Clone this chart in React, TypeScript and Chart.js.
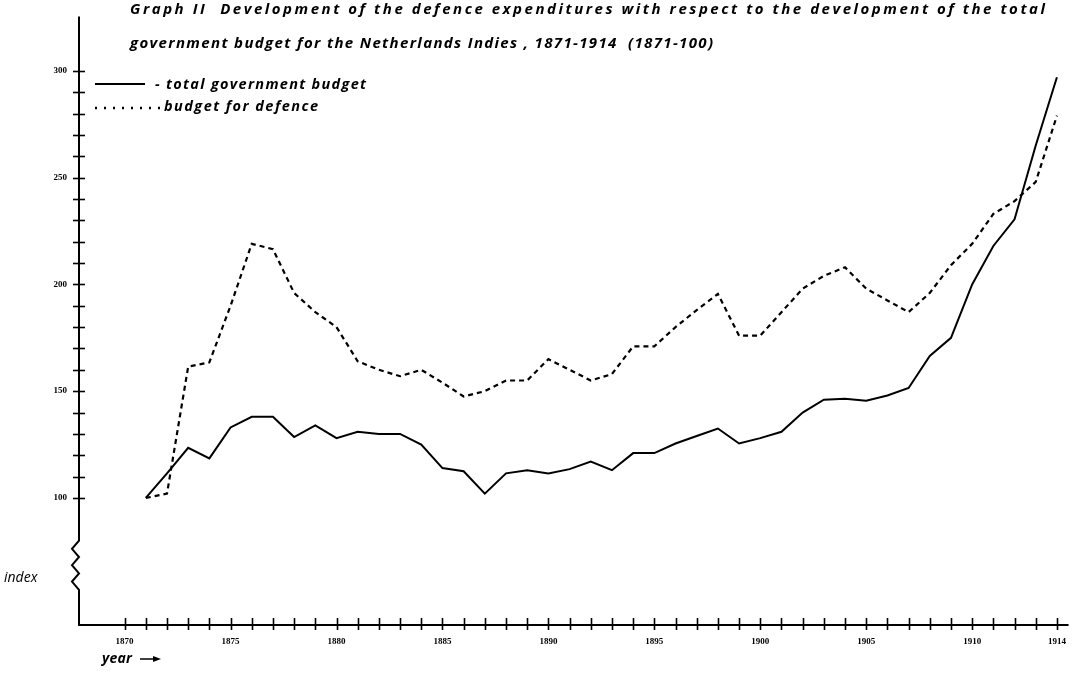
import React, { useEffect, useRef } from 'react';
import { Chart, registerables } from 'chart.js';

Chart.register(...registerables);

// ---- data (index, 1871 = 100) ----
const years = [
  1871, 1872, 1873, 1874, 1875, 1876, 1877, 1878, 1879, 1880,
  1881, 1882, 1883, 1884, 1885, 1886, 1887, 1888, 1889, 1890,
  1891, 1892, 1893, 1894, 1895, 1896, 1897, 1898, 1899, 1900,
  1901, 1902, 1903, 1904, 1905, 1906, 1907, 1908, 1909, 1910,
  1911, 1912, 1913, 1914,
];

const totalBudget = [
  100, 111.5, 123.5, 118.5, 133, 138, 138, 128.5, 134, 128,
  131, 130, 130, 125, 114, 112.5, 102, 111.5, 113, 111.5,
  113.5, 117, 113, 121, 121, 125.5, 129, 132.5, 125.5, 128,
  131, 140, 146, 146.5, 145.5, 148, 151.5, 166.5, 175, 200,
  218, 230.5, 265, 297,
];

const defenceBudget = [
  100, 102, 161.5, 163.5, 190, 219, 216.5, 196, 187, 180,
  164, 160, 157, 160, 154, 147.5, 150, 155, 155, 165,
  160, 155, 158, 171, 171, 180, 188, 195.5, 176, 176,
  187, 198, 204, 208, 198, 192.5, 187, 196, 209, 219,
  233, 239, 248, 279,
];

const xLabelYears = [1870, 1875, 1880, 1885, 1890, 1895, 1900, 1905, 1910, 1914];
const yLabelValues = [100, 150, 200, 250, 300];

const seriesNames = ['- total government budget', 'budget for defence'];
const titleLines = [
  'Graph II  Development of the defence expenditures with respect to the development of the total',
  'government budget for the Netherlands Indies , 1871-1914  (1871-100)',
];

const TEXT_FONT = '"Open Sans", "DejaVu Sans", sans-serif';

function drawSpaced(ctx: CanvasRenderingContext2D, text: string, x: number, y: number, target: number) {
  (ctx as any).letterSpacing = '0px';
  const w = ctx.measureText(text).width;
  const ls = target > 0 ? (target - w) / Math.max(1, text.length - 1) : 0;
  (ctx as any).letterSpacing = `${ls}px`;
  ctx.fillText(text, x, y);
  (ctx as any).letterSpacing = '0px';
}

const scanPlugin = {
  id: 'scanPlugin',
  afterDraw(chart: any) {
    const { ctx, chartArea, scales } = chart;
    const xs = scales.x;
    const ys = scales.y;
    const ax = chartArea.left + 1;
    const bottom = chartArea.bottom;
    ctx.save();
    ctx.strokeStyle = '#000';
    ctx.fillStyle = '#000';
    ctx.lineWidth = 2;
    ctx.lineCap = 'butt';

    // y axis with break zigzag
    const zzTop = ys.getPixelForValue(80);
    const zzBot = ys.getPixelForValue(57);
    ctx.beginPath();
    ctx.moveTo(ax, chartArea.top);
    ctx.lineTo(ax, zzTop);
    const n = 6;
    for (let i = 1; i <= n; i++) {
      const yy = zzTop + ((zzBot - zzTop) * i) / n;
      ctx.lineTo(i % 2 === 1 ? ax - 7 : ax, yy);
    }
    ctx.lineTo(ax, bottom);
    ctx.lineTo(chartArea.right, bottom);
    ctx.stroke();

    // y ticks (crossing)
    ctx.lineWidth = 1.6;
    ys.ticks.forEach((t: any) => {
      const py = Math.round(ys.getPixelForValue(t.value)) + 0.5;
      ctx.beginPath();
      ctx.moveTo(ax - 6, py);
      ctx.lineTo(ax + 6, py);
      ctx.stroke();
    });
    // x ticks (crossing)
    xs.ticks.forEach((t: any) => {
      const px = Math.round(xs.getPixelForValue(t.value)) + 0.5;
      ctx.beginPath();
      ctx.moveTo(px, bottom - 7);
      ctx.lineTo(px, bottom + 5);
      ctx.stroke();
    });

    // title
    ctx.font = `italic 700 15px ${TEXT_FONT}`;
    ctx.textBaseline = 'middle';
    ctx.textAlign = 'left';
    drawSpaced(ctx, titleLines[0], 130, 10, 915);
    drawSpaced(ctx, titleLines[1], 130, 44, 583);

    // legend
    const ds = chart.data.datasets;
    ctx.lineWidth = 2;
    ctx.setLineDash([]);
    ctx.beginPath();
    ctx.moveTo(95, 84);
    ctx.lineTo(145, 84);
    ctx.stroke();
    ctx.setLineDash([2, 7]);
    ctx.lineWidth = 2.5;
    ctx.beginPath();
    ctx.moveTo(95, 108);
    ctx.lineTo(160, 108);
    ctx.stroke();
    ctx.setLineDash([]);
    ctx.font = `italic 700 14.5px ${TEXT_FONT}`;
    drawSpaced(ctx, ds[0].label, 155, 85, 211);
    drawSpaced(ctx, ds[1].label, 164, 107, 154);

    // index label & year arrow
    ctx.font = `italic 500 14px ${TEXT_FONT}`;
    ctx.fillText('index', 4, 578);
    ctx.font = `italic 700 14px ${TEXT_FONT}`;
    drawSpaced(ctx, 'year', 102, 659, 30);
    ctx.lineWidth = 1.5;
    ctx.beginPath();
    ctx.moveTo(140, 659);
    ctx.lineTo(158, 659);
    ctx.stroke();
    ctx.beginPath();
    ctx.moveTo(161, 659);
    ctx.lineTo(153, 656);
    ctx.lineTo(153, 662);
    ctx.closePath();
    ctx.fill();
    ctx.restore();
  },
};

export default function App() {
  const ref = useRef<HTMLCanvasElement | null>(null);

  useEffect(() => {
    if (!ref.current) return;
    const chart = new Chart(ref.current, {
      type: 'line',
      data: {
        datasets: [
          {
            label: seriesNames[0],
            data: years.map((y, i) => ({ x: y, y: totalBudget[i] })),
            borderColor: '#000',
            borderWidth: 2,
            pointRadius: 0,
            tension: 0,
            fill: false,
          },
          {
            label: seriesNames[1],
            data: years.map((y, i) => ({ x: y, y: defenceBudget[i] })),
            borderColor: '#000',
            borderWidth: 2.2,
            borderDash: [5, 4],
            pointRadius: 0,
            tension: 0,
            fill: false,
          },
        ],
      },
      options: {
        responsive: false,
        animation: false,
        layout: { padding: { top: 10, right: 7, left: 0, bottom: 0 } },
        plugins: {
          legend: { display: false },
          title: { display: false },
          tooltip: { enabled: false },
        },
        scales: {
          x: {
            type: 'linear',
            min: 1867.8,
            max: 1914.55,
            grid: { display: false, drawTicks: false },
            border: { display: false },
            afterFit: (s: any) => { s.height = 51; },
            afterBuildTicks: (s: any) => {
              const t = [];
              for (let v = 1870; v <= 1914; v++) t.push({ value: v });
              s.ticks = t;
            },
            ticks: {
              autoSkip: false,
              maxRotation: 0,
              padding: 11,
              color: '#000',
              font: { family: '"Liberation Serif", serif', size: 9, weight: 'bold' },
              callback: (v: any) => (xLabelYears.includes(Number(v)) ? String(v) : ''),
            },
          },
          y: {
            type: 'linear',
            min: 40.5,
            max: 325.5,
            grid: { display: false, drawTicks: false },
            border: { display: false },
            afterFit: (s: any) => { s.width = 78; },
            afterBuildTicks: (s: any) => {
              const t = [];
              for (let v = 100; v <= 300; v += 10) t.push({ value: v });
              s.ticks = t;
            },
            ticks: {
              autoSkip: false,
              padding: 11,
              color: '#000',
              font: { family: '"Liberation Serif", serif', size: 9, weight: 'bold' },
              callback: (v: any) => (yLabelValues.includes(Number(v)) ? String(v) : ''),
            },
          },
        },
      },
      plugins: [scanPlugin],
    });
    return () => chart.destroy();
  }, []);

  return (
    <div style={{ position: 'absolute', left: 0, top: 0, width: 1077, height: 676, background: '#fff' }}>
      <canvas ref={ref} width={1077} height={676} />
    </div>
  );
}
